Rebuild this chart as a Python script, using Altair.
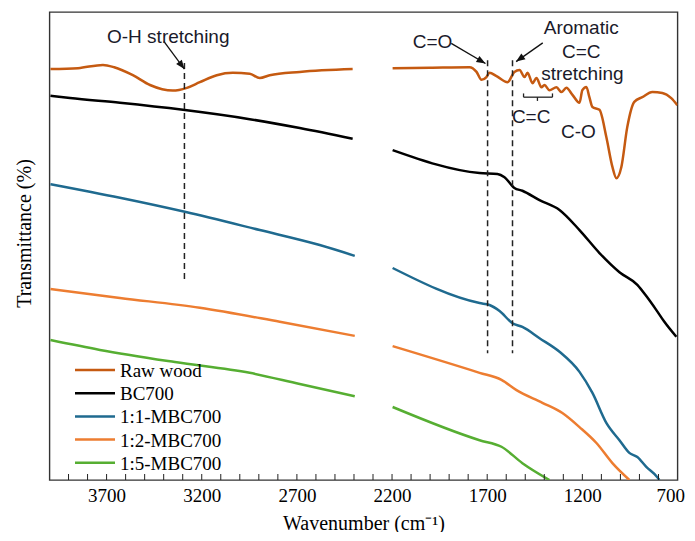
import altair as alt
import pandas as pd

SERIES = ["Raw wood", "BC700", "1:1-MBC700", "1:2-MBC700", "1:5-MBC700"]
COLORS = ["#C55A11", "#000000", "#1F6A8F", "#ED7D31", "#56AE32"]

# ---- spectra (wavenumber, transmittance in arbitrary %) ----
raw_w1 = [3995, 3850, 3719, 3660, 3562, 3472, 3352, 3278, 3210, 3121, 3037, 2948, 2895, 2843, 2685, 2407]
raw_t1 = [87.8, 88.0, 88.7, 88.2, 86.5, 84.4, 83.2, 83.8, 85.0, 86.5, 87.0, 86.8, 85.9, 86.5, 87.2, 87.8]
raw_w2 = [2197, 2000, 1793, 1756, 1730, 1704, 1688, 1651, 1593, 1557, 1530, 1504, 1488, 1462, 1441, 1415,
          1399, 1373, 1336, 1310, 1284, 1252, 1215, 1200, 1179, 1163, 1147, 1110, 1074, 1042, 1021, 995,
          964, 927, 885, 832, 780, 733, 701]
raw_t2 = [88.0, 88.1, 88.2, 87.2, 85.5, 86.1, 87.0, 86.3, 85.0, 87.2, 87.6, 86.1, 87.0, 84.8, 85.9, 83.9,
          84.4, 83.3, 83.9, 82.9, 83.8, 82.3, 80.6, 83.3, 84.0, 81.8, 79.7, 79.1, 73.3, 66.9, 64.5, 66.9,
          75.4, 80.8, 81.8, 82.9, 82.7, 81.6, 80.1]

bc_w1 = [3995, 3892, 3630, 3299, 2948, 2685, 2407]
bc_t1 = [82.1, 81.6, 80.6, 79.1, 77.1, 75.2, 72.9]
bc_w2 = [2197, 1740, 1646, 1609, 1557, 1515, 1425, 1320, 1215, 1110, 1005, 911, 864, 811, 769, 706]
bc_t2 = [70.5, 65.6, 65.4, 64.7, 62.4, 61.8, 59.8, 57.7, 53.4, 48.5, 44.4, 41.7, 39.3, 36.3, 33.8, 30.6]

m11_w1 = [3995, 3630, 3289, 2895, 2580, 2396]
m11_t1 = [63.2, 60.3, 57.3, 53.4, 50.2, 47.9]
m11_w2 = [2197, 1740, 1688, 1635, 1567, 1515, 1425, 1320, 1215, 1147, 1074, 1005, 953, 911, 864, 806, 795]
m11_t2 = [45.3, 37.8, 37.4, 36.1, 33.5, 32.7, 30.3, 27.4, 23.1, 18.6, 12.2, 8.5, 5.8, 4.9, 2.8, 0.6, 0.0]

m12_w1 = [3995, 3630, 3210, 2790, 2396]
m12_t1 = [40.8, 38.9, 36.8, 33.8, 30.8]
m12_w2 = [2197, 1740, 1625, 1546, 1410, 1305, 1215, 1126, 1042, 953]
m12_t2 = [28.6, 22.9, 21.4, 19.2, 16.5, 14.3, 11.3, 7.9, 3.6, 0.0]

m15_w1 = [3995, 3735, 3341, 2948, 2685, 2396]
m15_t1 = [29.9, 27.8, 25.2, 22.9, 20.5, 17.9]
m15_w2 = [2197, 1740, 1625, 1515, 1373]
m15_t2 = [15.6, 8.5, 7.1, 3.6, 0.0]

SEGMENTS = {
    "Raw wood": [(raw_w1, raw_t1), (raw_w2, raw_t2)],
    "BC700": [(bc_w1, bc_t1), (bc_w2, bc_t2)],
    "1:1-MBC700": [(m11_w1, m11_t1), (m11_w2, m11_t2)],
    "1:2-MBC700": [(m12_w1, m12_t1), (m12_w2, m12_t2)],
    "1:5-MBC700": [(m15_w1, m15_t1), (m15_w2, m15_t2)],
}

# ---- annotations ----
tick_vals = list(range(800, 4000, 100))
label_vals = [3700, 3200, 2700, 2200, 1700, 1200, 700]

dash_w = [3291, 1698, 1567]
dash_top = [89.1, 89.7, 89.7]
dash_bot = [42.1, 27.1, 27.1]

ann_text = ["O-H stretching", "C=O", "Aromatic", "C=C", "stretching", "C=C", "C-O"]
ann_w = [3376, 1987, 1206, 1206, 1200, 1469, 1221]
ann_t = [94.7, 93.5, 96.5, 91.5, 86.8, 77.6, 74.4]

arr_w0 = [3399, 1889, 1408]
arr_t0 = [93.7, 93.3, 93.4]
arr_w1 = [3291, 1709, 1548]
arr_t1 = [87.8, 89.0, 89.4]
arr_ang = [143, 120, 234]

br_w = [1509, 1357]
br_t = 81.8
br_cap = 82.6
br_mid_w = 1436
br_mid_t = 81.0

# ---- build tables ----
rows = []
for name, segs in SEGMENTS.items():
    for si, (ws, ts) in enumerate(segs):
        for w, t in zip(ws, ts):
            rows.append({"series": name, "seg": f"{name}-{si}", "w": w, "t": t})
df = pd.DataFrame(rows)

W, H = 628, 468
xscale = alt.Scale(domain=[700, 4000], reverse=True, nice=False, zero=False)
yscale = alt.Scale(domain=[0, 100], nice=False, zero=False)
SERIF = "Liberation Serif"
SANS = "Liberation Sans"

xaxis = alt.Axis(values=label_vals, format="d", ticks=False, tickSize=0, domain=False, grid=False,
                 labelFont=SERIF, labelFontSize=19, labelColor="black", labelPadding=6,
                 labelFlush=True, labelFlushOffset=7, labelOverlap=False,
                 title="Wavenumber (cm⁻¹)", titleFont=SERIF, titleFontSize=20,
                 titleFontWeight="normal", titleColor="black", titleBaseline="middle", titleY=43)
yaxis = alt.Axis(labels=False, ticks=False, tickSize=0, domain=False, grid=False,
                 title="Transmittance (%)", titleFont=SERIF, titleFontSize=20,
                 titleFontWeight="normal", titleColor="black", titleBaseline="middle",
                 titleX=-25, titleY=221)

def X(f):
    return alt.X(f"{f}:Q", scale=xscale, axis=xaxis)

def Y(f):
    return alt.Y(f"{f}:Q", scale=yscale, axis=yaxis)

lines = alt.Chart(df).mark_line(strokeWidth=2.5, clip=True, interpolate="monotone").encode(
    x=X("w"),
    y=Y("t"),
    color=alt.Color("series:N", scale=alt.Scale(domain=SERIES, range=COLORS), legend=None),
    detail="seg:N",
)

ticks = alt.Chart(pd.DataFrame({"w": tick_vals})).mark_rule(color="#222", strokeWidth=1).encode(
    x=X("w"), y=alt.value(H), y2=alt.value(H - 6)
)

dashes = alt.Chart(pd.DataFrame({"w": dash_w, "t": dash_top, "b": dash_bot})).mark_rule(
    color="#222", strokeWidth=1.5, strokeDash=[6, 4]
).encode(x=X("w"), y=Y("t"), y2=alt.Y2("b"))

arrows_df = pd.DataFrame({"w": arr_w0, "t": arr_t0, "w1": arr_w1, "t1": arr_t1, "ang": arr_ang})
arrow_lines = alt.Chart(arrows_df).mark_rule(color="#111", strokeWidth=1.3).encode(
    x=X("w"), y=Y("t"), x2=alt.X2("w1"), y2=alt.Y2("t1")
)
heads_df = pd.DataFrame({"w": arr_w1, "t": arr_t1, "ang": arr_ang})
arrow_heads = alt.Chart(heads_df).mark_point(
    shape="M0,0L-0.75,1.9L0.75,1.9Z", filled=True, color="#111", opacity=1, size=90
).encode(x=X("w"), y=Y("t"), angle=alt.Angle("ang:Q", scale=None))

texts = alt.Chart(pd.DataFrame({"s": ann_text, "w": ann_w, "t": ann_t})).mark_text(
    font=SANS, fontSize=19, color="#1a1a2a", align="center", baseline="middle"
).encode(x=X("w"), y=Y("t"), text="s:N")

br_df = pd.DataFrame({"w": [br_w[0]], "w2": [br_w[1]], "t": [br_t]})
bracket_h = alt.Chart(br_df).mark_rule(color="#222", strokeWidth=1.3).encode(
    x=X("w"), x2=alt.X2("w2"), y=Y("t")
)
bracket_v = alt.Chart(pd.DataFrame({"w": [br_w[0], br_w[1], br_mid_w],
                                    "t": [br_t, br_t, br_t],
                                    "b": [br_cap, br_cap, br_mid_t]})).mark_rule(
    color="#222", strokeWidth=1.3
).encode(x=X("w"), y=Y("t"), y2=alt.Y2("b"))

one = pd.DataFrame({"k": [0]})
legend_layers = []
for i, (name, col) in enumerate(zip(SERIES, COLORS)):
    ly = 358 + 23.2 * i
    legend_layers.append(
        alt.Chart(one).mark_rule(color=col, strokeWidth=2.5).encode(
            x=alt.value(25.5), x2=alt.value(65.5), y=alt.value(ly)
        )
    )
    legend_layers.append(
        alt.Chart(one).mark_text(font=SERIF, fontSize=19, color="black", align="left",
                                 baseline="middle").encode(
            x=alt.value(70.5), y=alt.value(ly + 1), text=alt.value(name)
        )
    )

chart = alt.layer(
    lines, ticks, dashes, arrow_lines, arrow_heads, texts, bracket_h, bracket_v, *legend_layers
).properties(
    width=W, height=H,
    padding={"left": 41.5, "top": 4, "right": 9, "bottom": 52},
    autosize=alt.AutoSizeParams(type="none"),
).configure_view(stroke="#333", strokeWidth=1.4)

chart.save("out.html", embed_options={"renderer": "svg", "actions": False})
